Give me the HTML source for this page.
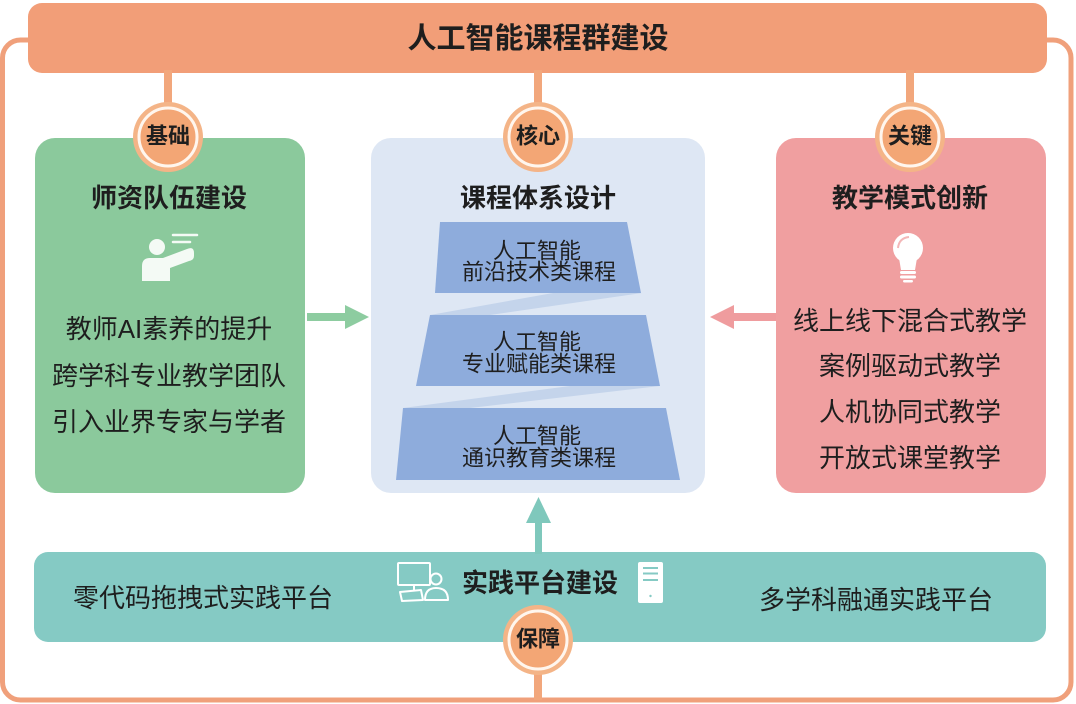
<!DOCTYPE html>
<html>
<head>
<meta charset="utf-8">
<style>
html,body{margin:0;padding:0;background:#ffffff;}
svg{display:block;}
text{font-family:"Liberation Sans","Noto Sans CJK SC",sans-serif;fill:#1e1e1e;}
.b{font-weight:700;}
</style>
</head>
<body>
<svg width="1076" height="704" viewBox="0 0 1076 704" xmlns="http://www.w3.org/2000/svg">
  <!-- outer frame -->
  <rect x="2.5" y="40" width="1068.5" height="660" rx="18" fill="none" stroke="#f0a07b" stroke-width="5"/>

  <!-- top bar -->
  <rect x="28" y="3" width="1019" height="70" rx="14" fill="#f29e78"/>
  <text x="538" y="39" class="b" font-size="29" text-anchor="middle" dominant-baseline="central">人工智能课程群建设</text>

  <!-- stems -->
  <rect x="164" y="70" width="8" height="36" fill="#f2a77c"/>
  <rect x="534" y="70" width="8" height="36" fill="#f2a77c"/>
  <rect x="906" y="70" width="8" height="36" fill="#f2a77c"/>

  <!-- panels -->
  <rect x="35" y="138" width="270" height="355" rx="20" fill="#8bc99c"/>
  <rect x="371" y="138" width="334" height="355" rx="20" fill="#dee7f4"/>
  <rect x="776" y="138" width="270" height="355" rx="20" fill="#f09fa0"/>

  <!-- circles top -->
  <g>
    <circle cx="168" cy="137" r="35" fill="#f4b487"/>
    <circle cx="168" cy="137" r="29" fill="#f3a675" stroke="#fff6ee" stroke-width="3"/>
    <text x="168" y="136" class="b" font-size="22" text-anchor="middle" dominant-baseline="central">基础</text>
  </g>
  <g>
    <circle cx="538" cy="137" r="35" fill="#f4b487"/>
    <circle cx="538" cy="137" r="29" fill="#f3a675" stroke="#fff6ee" stroke-width="3"/>
    <text x="538" y="136" class="b" font-size="22" text-anchor="middle" dominant-baseline="central">核心</text>
  </g>
  <g>
    <circle cx="910" cy="137" r="35" fill="#f4b487"/>
    <circle cx="910" cy="137" r="29" fill="#f3a675" stroke="#fff6ee" stroke-width="3"/>
    <text x="910" y="136" class="b" font-size="22" text-anchor="middle" dominant-baseline="central">关键</text>
  </g>

  <!-- left panel content -->
  <text x="169" y="198" class="b" font-size="26" text-anchor="middle" dominant-baseline="central">师资队伍建设</text>
  <g fill="#f4faf5">
    <circle cx="157" cy="247" r="8"/>
    <path d="M142,281 L142,266 Q142,258 150,258 L163,258 L187,249 Q194,246 194,253 L194,256 Q194,260 189,261 L170,268 L170,281 Z"/>
  </g>
  <g stroke="#f4faf5" stroke-width="2.5" stroke-linecap="round">
    <line x1="173" y1="235" x2="197" y2="235"/>
    <line x1="173" y1="242" x2="190" y2="242"/>
  </g>
  <text x="169" y="329" font-size="26" text-anchor="middle" dominant-baseline="central">教师AI素养的提升</text>
  <text x="169" y="376" font-size="26" text-anchor="middle" dominant-baseline="central">跨学科专业教学团队</text>
  <text x="169" y="422" font-size="26" text-anchor="middle" dominant-baseline="central">引入业界专家与学者</text>

  <!-- center panel content -->
  <text x="538" y="198" class="b" font-size="26" text-anchor="middle" dominant-baseline="central">课程体系设计</text>
  <polygon points="553,293 642,293 490,315 430,315" fill="#c4d4eb"/>
  <polygon points="570,386 660,386 470,408 403,408" fill="#c4d4eb"/>
  <polygon points="440,222 627,222 641,293 435,293" fill="#8eacdc"/>
  <polygon points="430,315 646,315 660,386 416,386" fill="#8eacdc"/>
  <polygon points="403,408 666,408 680,480 396,480" fill="#8eacdc"/>
  <text x="537" y="251" font-size="22" text-anchor="middle" dominant-baseline="central">人工智能</text>
  <text x="539" y="272" font-size="22" text-anchor="middle" dominant-baseline="central">前沿技术类课程</text>
  <text x="537" y="342" font-size="22" text-anchor="middle" dominant-baseline="central">人工智能</text>
  <text x="539" y="364" font-size="22" text-anchor="middle" dominant-baseline="central">专业赋能类课程</text>
  <text x="537" y="436" font-size="22" text-anchor="middle" dominant-baseline="central">人工智能</text>
  <text x="539" y="458" font-size="22" text-anchor="middle" dominant-baseline="central">通识教育类课程</text>

  <!-- right panel content -->
  <text x="910" y="198" class="b" font-size="26" text-anchor="middle" dominant-baseline="central">教学模式创新</text>
  <g>
    <circle cx="908" cy="248" r="15" fill="#ffffff"/>
    <path d="M899,258 L917,258 L915,270 L901,270 Z" fill="#ffffff"/>
    <rect x="900" y="271" width="16" height="3" rx="1.5" fill="#ffffff"/>
    <rect x="900" y="275.5" width="16" height="3" rx="1.5" fill="#ffffff"/>
    <rect x="903" y="280" width="10" height="2.5" rx="1.2" fill="#ffffff"/>
    <path d="M898,248 Q899,238 909,237" fill="none" stroke="#f3b7b8" stroke-width="2"/>
  </g>
  <text x="910" y="321" font-size="26" text-anchor="middle" dominant-baseline="central">线上线下混合式教学</text>
  <text x="910" y="366" font-size="26" text-anchor="middle" dominant-baseline="central">案例驱动式教学</text>
  <text x="910" y="412" font-size="26" text-anchor="middle" dominant-baseline="central">人机协同式教学</text>
  <text x="910" y="458" font-size="26" text-anchor="middle" dominant-baseline="central">开放式课堂教学</text>

  <!-- horizontal arrows -->
  <rect x="307" y="313" width="40" height="8" fill="#8dcca0"/>
  <polygon points="345,305 369,317 345,329" fill="#8dcca0"/>
  <rect x="732" y="313" width="44" height="8" fill="#ef9c9e"/>
  <polygon points="710,317 734,305 734,329" fill="#ef9c9e"/>

  <!-- bottom bar -->
  <rect x="34" y="552" width="1012" height="90" rx="14" fill="#85cac4"/>
  <text x="203" y="598" font-size="26" text-anchor="middle" dominant-baseline="central">零代码拖拽式实践平台</text>
  <text x="876" y="600" font-size="26" text-anchor="middle" dominant-baseline="central">多学科融通实践平台</text>
  <text x="540" y="583" class="b" font-size="26" text-anchor="middle" dominant-baseline="central">实践平台建设</text>

  <!-- computer icon -->
  <g fill="none" stroke="#ffffff" stroke-width="2" stroke-linejoin="round">
    <rect x="398" y="563" width="32" height="22" rx="1"/>
    <line x1="414" y1="585" x2="414" y2="590"/>
    <polygon points="400,592 421,590 423,600 402,601"/>
    <circle cx="436" cy="579" r="5.5"/>
    <path d="M425,600 Q425,588 436,588 Q448,588 448,600 Z"/>
  </g>
  <!-- server icon -->
  <rect x="638" y="562" width="25" height="41" rx="2" fill="#ffffff"/>
  <g stroke="#85cac4" stroke-width="2">
    <line x1="643" y1="568" x2="658" y2="568"/>
    <line x1="643" y1="573.5" x2="658" y2="573.5"/>
    <line x1="643" y1="580" x2="658" y2="580"/>
  </g>
  <circle cx="650.5" cy="596" r="1.2" fill="#85cac4"/>

  <!-- up arrow -->
  <rect x="535" y="520" width="7" height="34" fill="#7fc8bc"/>
  <polygon points="538.5,497 526,523 551,523" fill="#7fc8bc"/>

  <!-- bottom stem and circle -->
  <rect x="534" y="670" width="8" height="30" fill="#f2a77c"/>
  <circle cx="538" cy="640" r="35" fill="#f4b487"/>
  <circle cx="538" cy="640" r="29" fill="#f3a675" stroke="#fff6ee" stroke-width="3"/>
  <text x="538" y="639" class="b" font-size="22" text-anchor="middle" dominant-baseline="central">保障</text>
</svg>
</body>
</html>
